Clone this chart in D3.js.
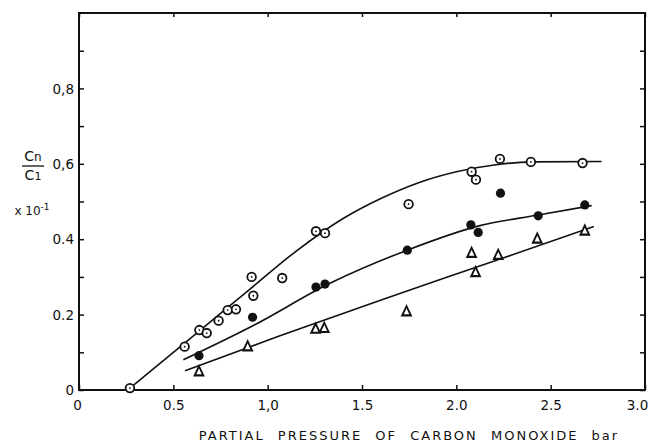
<!DOCTYPE html>
<html>
<head>
<meta charset="utf-8">
<script src="https://cdn.jsdelivr.net/npm/d3@7/dist/d3.min.js"></script>
<style>
  html, body { margin: 0; padding: 0; background: #fff; }
  svg text { font-family: "DejaVu Sans", sans-serif; fill: #111; }
</style>
</head>
<body>
<svg id="chart" width="654" height="446"></svg>
<script>
// Ratio Cn/C1 (x 10^-1) against CO partial pressure (bar), three data sets.

// Measured points: open circles (with centre dot)
const openX = [0.27, 0.56, 0.638, 0.677, 0.74, 0.788, 0.832, 0.915, 0.924, 1.077, 1.256, 1.304, 1.747, 2.081, 2.104, 2.231, 2.395, 2.669];
const openY = [0.005, 0.115, 0.159, 0.151, 0.184, 0.212, 0.214, 0.30, 0.25, 0.297, 0.421, 0.416, 0.493, 0.579, 0.558, 0.613, 0.605, 0.602];

// Filled circles
const filledX = [0.636, 0.92, 1.256, 1.304, 1.74, 2.077, 2.116, 2.234, 2.434, 2.681];
const filledY = [0.091, 0.193, 0.273, 0.281, 0.371, 0.438, 0.418, 0.522, 0.462, 0.491];

// Open triangles
const triX = [0.636, 0.894, 1.254, 1.30, 1.736, 2.081, 2.102, 2.222, 2.429, 2.681];
const triY = [0.047, 0.113, 0.16, 0.162, 0.206, 0.361, 0.31, 0.356, 0.399, 0.42];

// Smoothed trend curves drawn through each set
const openCurveX = [0.27, 0.6, 0.9, 1.15, 1.4, 1.6, 1.8, 2.0, 2.2, 2.4, 2.77];
const openCurveY = [0.005, 0.141, 0.265, 0.368, 0.455, 0.508, 0.55, 0.579, 0.597, 0.605, 0.606];
const filledCurveX = [0.553, 0.924, 1.33, 1.74, 2.125, 2.434, 2.717];
const filledCurveY = [0.08, 0.171, 0.283, 0.371, 0.436, 0.464, 0.489];
const triCurveX = [0.562, 1.065, 1.613, 2.178, 2.729];
const triCurveY = [0.051, 0.144, 0.241, 0.338, 0.434];

// Axis ticks and their printed labels
const xTicks = [0, 0.5, 1.0, 1.5, 2.0, 2.5, 3.0];
const xTickLabels = ["0", "0.5", "1,0", "1.5", "2.0", "2.5", "3.0"];
const yTicks = [0, 0.1, 0.2, 0.3, 0.4, 0.5, 0.6, 0.7, 0.8, 0.9];
const yTickLabels = ["0", "", "0.2", "", "0.4", "", "0,6", "", "0,8", ""];

const svg = d3.select("#chart");
const x = d3.scaleLinear().domain([0, 3]).range([79, 645]);
const y = d3.scaleLinear().domain([0, 1]).range([390, 13]);

const zip = (xs, ys) => xs.map((v, i) => [v, ys[i]]);

// Frame
svg.append("rect")
  .attr("x", x(0)).attr("y", y(1))
  .attr("width", x(3) - x(0)).attr("height", y(0) - y(1))
  .attr("fill", "none").attr("stroke", "#111").attr("stroke-width", 2);

// Axes with inward ticks
const xAxis = d3.axisBottom(x).tickValues(xTicks)
  .tickFormat((d, i) => xTickLabels[i]).tickSizeInner(-5).tickSizeOuter(0).tickPadding(10);
const gx = svg.append("g").attr("transform", `translate(0,${y(0)})`).call(xAxis);

const yAxis = d3.axisLeft(y).tickValues(yTicks)
  .tickFormat((d, i) => yTickLabels[i]).tickSizeInner(-5).tickSizeOuter(0).tickPadding(5);
const gy = svg.append("g").attr("transform", `translate(${x(0)},0)`).call(yAxis);

const yAxisR = d3.axisRight(y).tickValues(yTicks)
  .tickFormat("").tickSizeInner(-5).tickSizeOuter(0);
const gyr = svg.append("g").attr("transform", `translate(${x(3)},0)`).call(yAxisR);

const xAxisT = d3.axisTop(x).tickValues(xTicks)
  .tickFormat("").tickSizeInner(-4).tickSizeOuter(0);
const gxt = svg.append("g").attr("transform", `translate(0,${y(1)})`).call(xAxisT);

[gx, gy, gyr, gxt].forEach(g => {
  g.select(".domain").remove();
  g.selectAll(".tick line").attr("stroke", "#111").attr("stroke-width", 1.5);
  g.selectAll(".tick text").attr("font-size", 13.5).attr("fill", "#111")
    .style("font-family", "DejaVu Sans, sans-serif");
});
gy.selectAll(".tick text").attr("dy", "0.35em");
// keep the last bottom label inside the page
gx.selectAll(".tick text").filter((d, i) => i === xTicks.length - 1).attr("dx", -8);
gx.selectAll(".tick text").filter((d, i) => i === 0).attr("dx", -2);

// Trend curves
const line = d3.line().x(d => x(d[0])).y(d => y(d[1])).curve(d3.curveMonotoneX);
[[openCurveX, openCurveY], [filledCurveX, filledCurveY], [triCurveX, triCurveY]].forEach(([xs, ys]) => {
  svg.append("path").attr("d", line(zip(xs, ys)))
    .attr("fill", "none").attr("stroke", "#111").attr("stroke-width", 1.6);
});

// Open circles with centre dot
const og = svg.append("g");
og.selectAll("circle.o").data(zip(openX, openY)).join("circle")
  .attr("cx", d => x(d[0])).attr("cy", d => y(d[1])).attr("r", 4.3)
  .attr("fill", "#fff").attr("stroke", "#111").attr("stroke-width", 1.8);
og.selectAll("circle.dot").data(zip(openX, openY)).join("circle")
  .attr("cx", d => x(d[0])).attr("cy", d => y(d[1])).attr("r", 0.9)
  .attr("fill", "#111");

// Filled circles
svg.append("g").selectAll("circle").data(zip(filledX, filledY)).join("circle")
  .attr("cx", d => x(d[0])).attr("cy", d => y(d[1])).attr("r", 4.6)
  .attr("fill", "#111");

// Open triangles
const tri = d3.symbol().type(d3.symbolTriangle).size(40);
svg.append("g").selectAll("path").data(zip(triX, triY)).join("path")
  .attr("d", tri)
  .attr("transform", d => `translate(${x(d[0])},${y(d[1])}) scale(0.9,1.1)`)
  .attr("fill", "#fff").attr("stroke", "#111").attr("stroke-width", 2);

// Y-axis label: Cn / C1, x 10^-1
const yl = svg.append("g").attr("transform", "translate(33,0)");
const t1 = yl.append("text").attr("x", 0).attr("y", 161).attr("text-anchor", "middle").attr("font-size", 14);
t1.append("tspan").text("C");
t1.append("tspan").attr("font-size", 12).text("n");
yl.append("line").attr("x1", -11).attr("x2", 11).attr("y1", 166).attr("y2", 166)
  .attr("stroke", "#111").attr("stroke-width", 1.3);
const t2 = yl.append("text").attr("x", 0).attr("y", 180).attr("text-anchor", "middle").attr("font-size", 14);
t2.append("tspan").text("C");
t2.append("tspan").attr("font-size", 11).text("1");
const t3 = yl.append("text").attr("x", -1).attr("y", 215).attr("text-anchor", "middle").attr("font-size", 12);
t3.append("tspan").text("x 10");
t3.append("tspan").attr("font-size", 9).attr("dy", -5).text("-1");

// X-axis title
svg.append("text").attr("x", 409).attr("y", 440).attr("text-anchor", "middle")
  .attr("font-size", 13).attr("letter-spacing", 2)
  .attr("word-spacing", 7)
  .text("PARTIAL PRESSURE OF CARBON MONOXIDE bar");
</script>
</body>
</html>
